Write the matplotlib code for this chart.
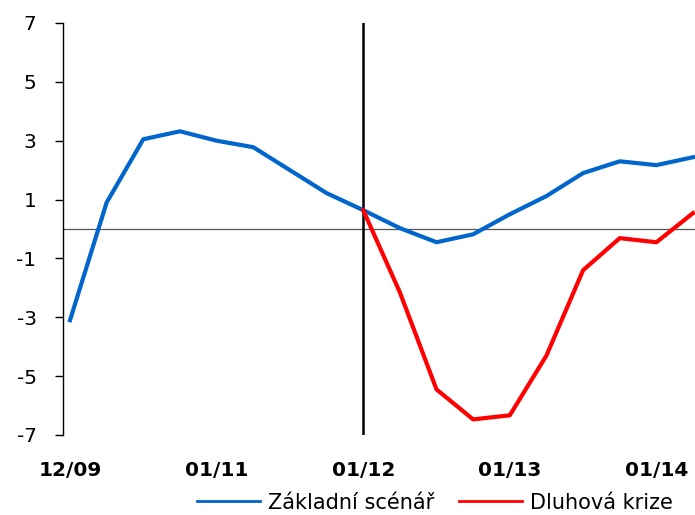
import matplotlib
matplotlib.use("Agg")
import matplotlib.pyplot as plt

# Quarterly path, 12/09 onwards
quarters = list(range(18))
zakladni = [-3.1, 0.9, 3.05, 3.32, 3.0, 2.78, 2.0, 1.22, 0.64, 0.03,
            -0.45, -0.18, 0.5, 1.12, 1.9, 2.3, 2.17, 2.44]
krize_q = list(range(8, 18))
krize = [0.64, -2.15, -5.45, -6.47, -6.33, -4.3, -1.4, -0.31, -0.45, 0.54]

tick_pos = [0, 4, 8, 12, 16]
tick_labels = ["12/09", "01/11", "01/12", "01/13", "01/14"]
y_ticks = [-7, -5, -3, -1, 1, 3, 5, 7]

BLUE = "#0066CC"
RED = "#FF0000"

fig = plt.figure(figsize=(6.95, 5.15), dpi=100)
ax = fig.add_axes([63 / 695, 1 - 435 / 515, (695 - 63) / 695, 412 / 515])

ax.axhline(0, color="#555555", linewidth=0.9, zorder=1)
ax.axvline(8, color="black", linewidth=1.8, zorder=2)

ax.plot(quarters, zakladni, color=BLUE, linewidth=3.0,
        label="Základní scénář", zorder=3)
ax.plot(krize_q, krize, color=RED, linewidth=3.0,
        label="Dluhová krize", zorder=4)

ax.set_xlim(-7 / 36.65, (695 - 70) / 36.65)
ax.set_ylim(-7, 7)
ax.set_yticks(y_ticks)
ax.set_yticklabels([str(v) for v in y_ticks], fontsize=14.5)
ax.set_xticks(tick_pos)
ax.set_xticklabels(tick_labels, fontsize=14.5, fontweight="bold")

ax.tick_params(axis="y", direction="out", length=6, width=1, pad=13)
ax.tick_params(axis="x", length=0, pad=19)

for side in ["top", "right", "bottom"]:
    ax.spines[side].set_visible(False)
ax.spines["left"].set_linewidth(1.0)

leg = fig.legend(loc="center", bbox_to_anchor=(0.626, 0.024), ncol=2,
                 frameon=False, fontsize=15, handlelength=3.0,
                 handletextpad=0.4, columnspacing=1.2)
for line in leg.get_lines():
    line.set_linewidth(2.0)

fig.savefig("out.png", dpi=100)
